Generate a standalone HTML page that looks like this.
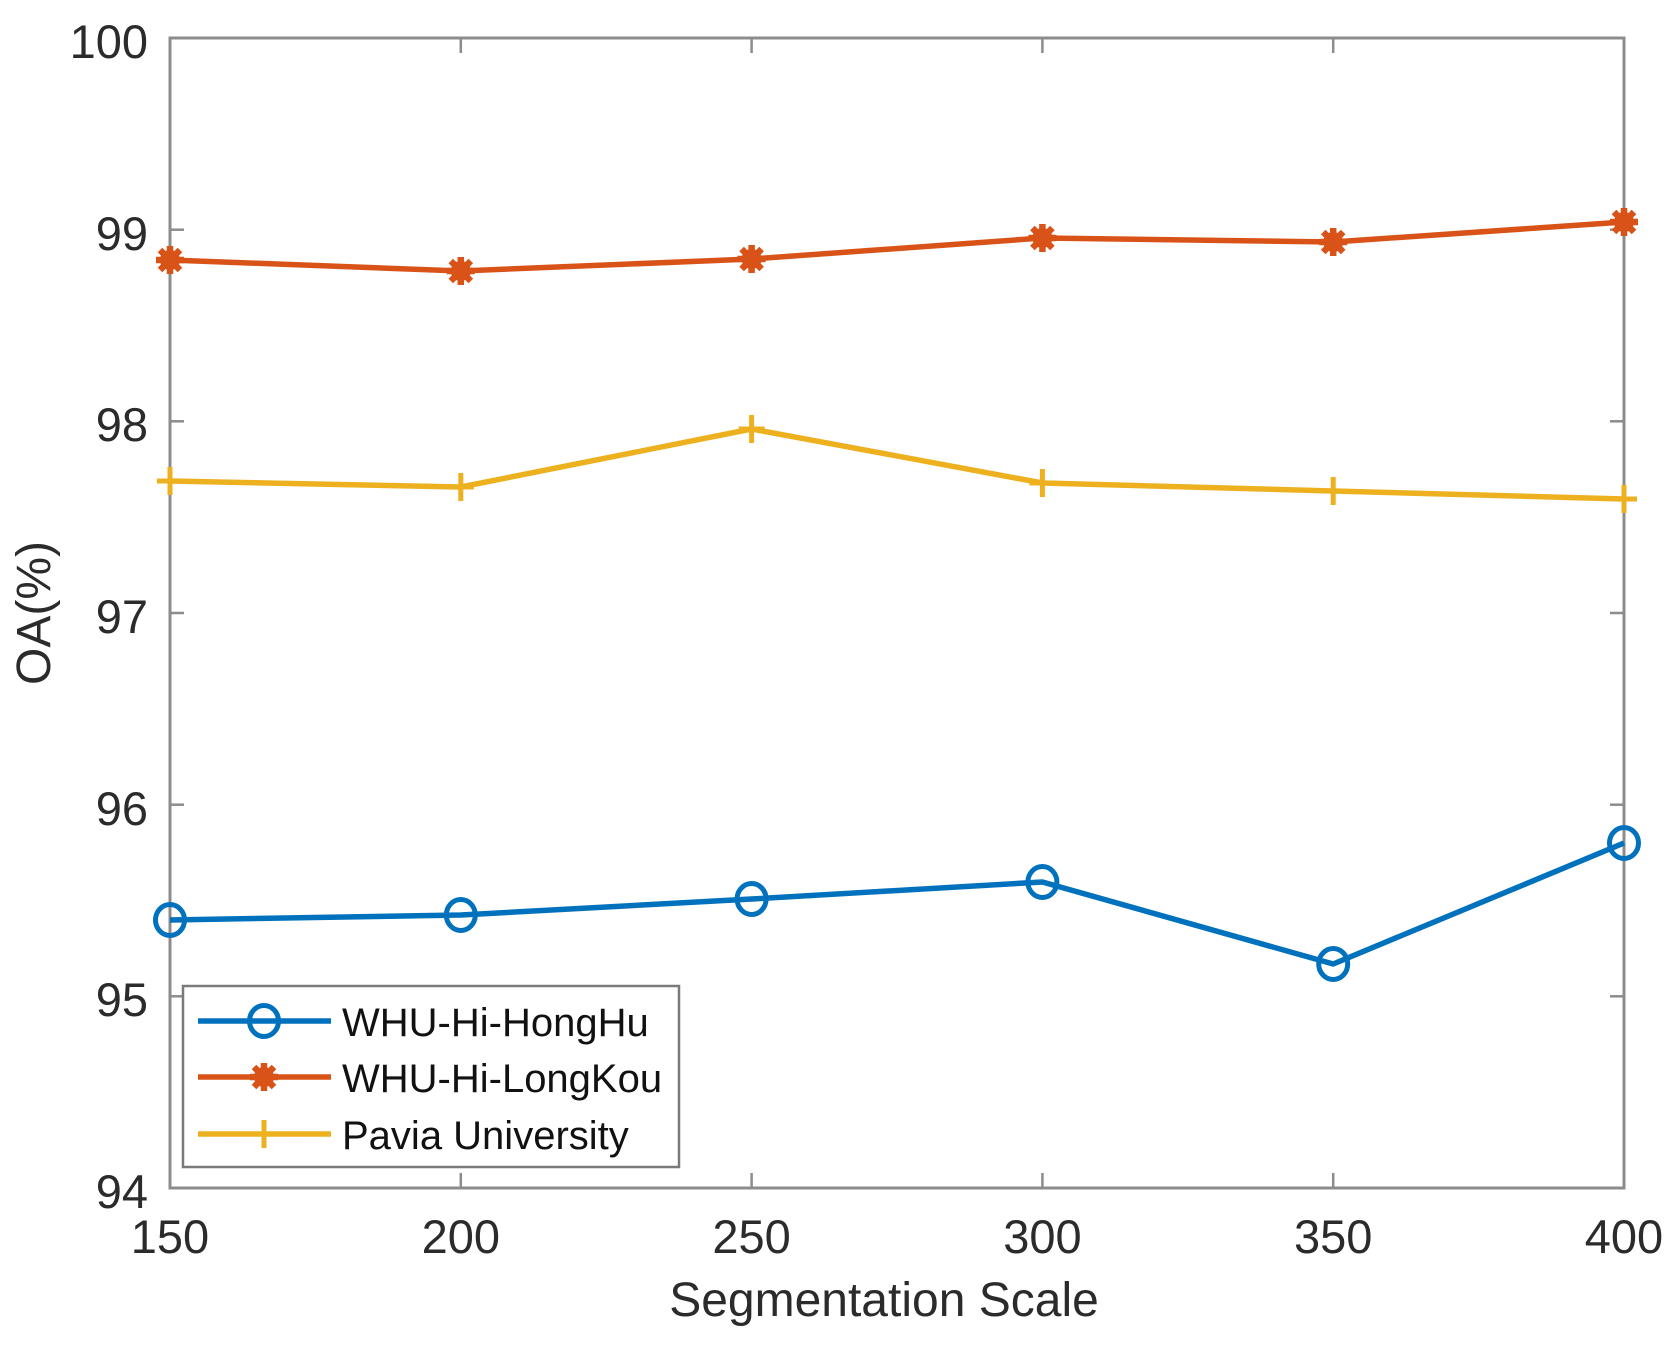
<!DOCTYPE html>
<html>
<head>
<meta charset="utf-8">
<style>
html,body{margin:0;padding:0;background:#fff;}
svg{display:block;}
text{font-family:"Liberation Sans","DejaVu Sans",sans-serif;fill:#2b2b2b;}
</style>
</head>
<body>
<svg width="1676" height="1346" viewBox="0 0 1676 1346" xmlns="http://www.w3.org/2000/svg">
<defs>
  <g id="circ"><ellipse cx="0" cy="0" rx="14.5" ry="15.5" fill="none" stroke="#0072BD" stroke-width="5"/></g>
  <g id="star" stroke="#D95319" stroke-width="6.5" stroke-linecap="butt">
    <line x1="0" y1="-14" x2="0" y2="14"/>
    <line x1="-14" y1="0" x2="14" y2="0"/>
    <line x1="-10" y1="-10" x2="10" y2="10"/>
    <line x1="-10" y1="10" x2="10" y2="-10"/>
    <circle cx="0" cy="0" r="10" fill="#D95319" stroke="none"/>
  </g>
  <g id="plus" stroke="#EDB120" stroke-width="5">
    <line x1="0" y1="-14" x2="0" y2="14"/>
    <line x1="-13" y1="0" x2="13" y2="0"/>
  </g>
</defs>

<!-- axes box -->
<rect x="170" y="38" width="1454" height="1150" fill="#fff" stroke="#8c8c8c" stroke-width="3"/>

<!-- ticks -->
<g stroke="#8c8c8c" stroke-width="2.5">
  <line x1="170" y1="229.7" x2="184" y2="229.7"/><line x1="1624" y1="229.7" x2="1610" y2="229.7"/>
  <line x1="170" y1="421.3" x2="184" y2="421.3"/><line x1="1624" y1="421.3" x2="1610" y2="421.3"/>
  <line x1="170" y1="613" x2="184" y2="613"/><line x1="1624" y1="613" x2="1610" y2="613"/>
  <line x1="170" y1="804.7" x2="184" y2="804.7"/><line x1="1624" y1="804.7" x2="1610" y2="804.7"/>
  <line x1="170" y1="996.3" x2="184" y2="996.3"/><line x1="1624" y1="996.3" x2="1610" y2="996.3"/>
  <line x1="460.8" y1="1188" x2="460.8" y2="1173"/><line x1="460.8" y1="38" x2="460.8" y2="53"/>
  <line x1="751.6" y1="1188" x2="751.6" y2="1173"/><line x1="751.6" y1="38" x2="751.6" y2="53"/>
  <line x1="1042.4" y1="1188" x2="1042.4" y2="1173"/><line x1="1042.4" y1="38" x2="1042.4" y2="53"/>
  <line x1="1333.2" y1="1188" x2="1333.2" y2="1173"/><line x1="1333.2" y1="38" x2="1333.2" y2="53"/>
</g>

<!-- y tick labels -->
<g font-size="47" text-anchor="end">
  <text x="148" y="58">100</text>
  <text x="148" y="250">99</text>
  <text x="148" y="441">98</text>
  <text x="148" y="633">97</text>
  <text x="148" y="825">96</text>
  <text x="148" y="1016">95</text>
  <text x="148" y="1208">94</text>
</g>

<!-- x tick labels -->
<g font-size="47" text-anchor="middle">
  <text x="170" y="1253">150</text>
  <text x="460.8" y="1253">200</text>
  <text x="751.6" y="1253">250</text>
  <text x="1042.4" y="1253">300</text>
  <text x="1333.2" y="1253">350</text>
  <text x="1624" y="1253">400</text>
</g>

<!-- axis labels -->
<text x="884" y="1316" font-size="48" text-anchor="middle">Segmentation Scale</text>
<text transform="translate(50,613) rotate(-90)" font-size="48" text-anchor="middle">OA(%)</text>

<!-- series -->
<polyline fill="none" stroke="#D95319" stroke-width="5.5" stroke-linejoin="round"
  points="170,260 460.8,271 751.6,259 1042.4,238 1333.2,242 1624,222"/>
<polyline fill="none" stroke="#EDB120" stroke-width="5.5" stroke-linejoin="round"
  points="170,481 460.8,487 751.6,429 1042.4,483 1333.2,491 1624,499"/>
<polyline fill="none" stroke="#0072BD" stroke-width="5.5" stroke-linejoin="round"
  points="170,920 460.8,915 751.6,899 1042.4,882 1333.2,964 1624,843"/>

<use href="#star" x="170" y="260"/><use href="#star" x="460.8" y="271"/><use href="#star" x="751.6" y="259"/>
<use href="#star" x="1042.4" y="238"/><use href="#star" x="1333.2" y="242"/><use href="#star" x="1624" y="222"/>

<use href="#plus" x="170" y="481"/><use href="#plus" x="460.8" y="487"/><use href="#plus" x="751.6" y="429"/>
<use href="#plus" x="1042.4" y="483"/><use href="#plus" x="1333.2" y="491"/><use href="#plus" x="1624" y="499"/>

<use href="#circ" x="170" y="920"/><use href="#circ" x="460.8" y="915"/><use href="#circ" x="751.6" y="899"/>
<use href="#circ" x="1042.4" y="882"/><use href="#circ" x="1333.2" y="964"/><use href="#circ" x="1624" y="843"/>

<!-- legend -->
<rect x="183" y="986" width="496" height="181" fill="#fff" stroke="#7a7a7a" stroke-width="2.5"/>
<line x1="198" y1="1021" x2="331" y2="1021" stroke="#0072BD" stroke-width="5.5"/>
<use href="#circ" x="264" y="1021"/>
<line x1="198" y1="1077" x2="331" y2="1077" stroke="#D95319" stroke-width="5.5"/>
<use href="#star" x="264" y="1077"/>
<line x1="198" y1="1134" x2="331" y2="1134" stroke="#EDB120" stroke-width="5.5"/>
<use href="#plus" x="264" y="1134"/>
<g font-size="40">
  <text x="342" y="1036" style="fill:#111">WHU-Hi-HongHu</text>
  <text x="342" y="1092" style="fill:#111">WHU-Hi-LongKou</text>
  <text x="342" y="1149" style="fill:#111">Pavia University</text>
</g>
</svg>
</body>
</html>
